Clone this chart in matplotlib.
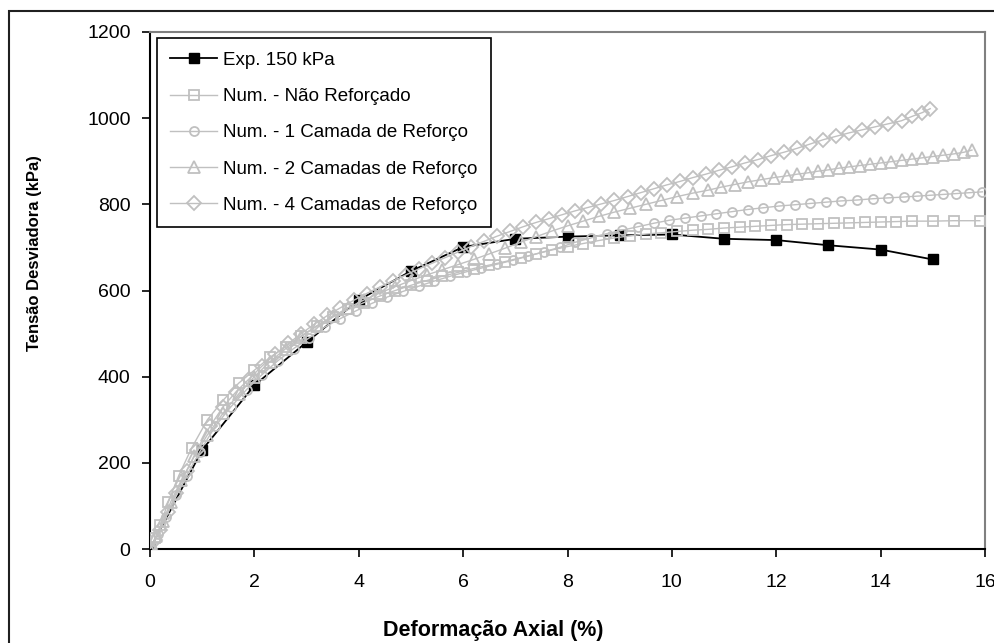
import matplotlib
matplotlib.use("Agg")
import matplotlib.pyplot as plt
from matplotlib.patches import Rectangle

plt.rcParams["font.family"] = ["Liberation Sans", "DejaVu Sans"]

# ensaio experimental, confinamento 150 kPa
exp_x = [0, 1, 2, 3, 4, 5, 6, 7, 8, 9, 10, 11, 12, 13, 14, 15]
exp_y = [0, 230, 380, 480, 578, 645, 701, 720, 725, 728, 730, 720, 717, 705, 695, 672]

# simulacoes numericas
nr_x = [0, 0.1, 0.2, 0.35, 0.55, 0.8, 1.1, 1.4, 1.7, 2.0, 2.3, 2.6, 2.9, 3.2, 3.5,
        3.8, 4.1, 4.4, 4.7, 5.0, 5.3, 5.6, 5.9, 6.2, 6.5, 6.8, 7.1, 7.4, 7.7, 8.0,
        8.3, 8.6, 8.9, 9.2, 9.5, 9.8, 10.1, 10.4, 10.7, 11.0, 11.3, 11.6, 11.9, 12.2,
        12.5, 12.8, 13.1, 13.4, 13.7, 14.0, 14.3, 14.6, 15.0, 15.4, 15.9]
nr_y = [0, 25, 55, 110, 170, 235, 300, 345, 385, 415, 445, 470, 495, 518, 538,
        556, 572, 587, 600, 612, 623, 633, 642, 651, 659, 667, 676, 685, 694, 702,
        709, 716, 722, 727, 731, 734, 737, 740, 742, 745, 747, 749, 751, 753,
        754, 755, 756, 757, 758, 759, 760, 761, 761, 762, 762]

c1_x = [0, 0.15, 0.3, 0.5, 0.7, 0.95, 1.25, 1.55, 1.85, 2.15, 2.45, 2.75, 3.05, 3.35,
        3.65, 3.95, 4.25, 4.55, 4.85, 5.15, 5.45, 5.75, 6.05, 6.35, 6.65, 6.95, 7.25,
        7.55, 7.85, 8.15, 8.45, 8.75, 9.05, 9.35, 9.65, 9.95, 10.25, 10.55, 10.85,
        11.15, 11.45, 11.75, 12.05, 12.35, 12.65, 12.95, 13.25, 13.55, 13.85, 14.15,
        14.45, 14.7, 14.95, 15.2, 15.45, 15.7, 15.95]
c1_y = [0, 35, 75, 125, 170, 225, 285, 330, 370, 405, 437, 465, 490, 515,
        535, 553, 570, 585, 598, 610, 622, 633, 643, 652, 661, 670, 680,
        690, 700, 712, 722, 732, 740, 748, 756, 763, 768, 773, 778,
        783, 788, 792, 796, 799, 802, 805, 808, 810, 813, 815,
        817, 819, 821, 823, 825, 827, 829]

c2_x = [0, 0.12, 0.25, 0.4, 0.6, 0.85, 1.1, 1.4, 1.7, 2.0, 2.3, 2.6, 2.9, 3.2, 3.5,
        3.8, 4.1, 4.4, 4.7, 5.0, 5.3, 5.6, 5.9, 6.2, 6.5, 6.8, 7.1, 7.4, 7.7, 8.0,
        8.3, 8.6, 8.9, 9.2, 9.5, 9.8, 10.1, 10.4, 10.7, 10.95, 11.2, 11.45, 11.7,
        11.95, 12.2, 12.4, 12.6, 12.8, 13.0, 13.2, 13.4, 13.6, 13.8, 14.0, 14.2,
        14.4, 14.6, 14.8, 15.0, 15.2, 15.4, 15.6, 15.75]
c2_y = [0, 30, 65, 110, 160, 215, 265, 315, 360, 400, 435, 465, 493, 518, 540,
        560, 578, 594, 609, 623, 636, 648, 660, 672, 685, 698, 712, 725, 738, 750,
        761, 772, 782, 791, 800, 809, 818, 826, 833, 840, 846, 852, 857,
        862, 866, 870, 873, 877, 880, 884, 887, 890, 893, 896, 899,
        902, 905, 908, 911, 914, 917, 921, 926]

c4_x = [0, 0.1, 0.2, 0.35, 0.5, 0.7, 0.9, 1.15, 1.4, 1.65, 1.9, 2.15, 2.4, 2.65, 2.9,
        3.15, 3.4, 3.65, 3.9, 4.15, 4.4, 4.65, 4.9, 5.15, 5.4, 5.65, 5.9, 6.15, 6.4,
        6.65, 6.9, 7.15, 7.4, 7.65, 7.9, 8.15, 8.4, 8.65, 8.9, 9.15, 9.4, 9.65, 9.9,
        10.15, 10.4, 10.65, 10.9, 11.15, 11.4, 11.65, 11.9, 12.15, 12.4, 12.65, 12.9,
        13.15, 13.4, 13.65, 13.9, 14.15, 14.4, 14.6, 14.8, 14.95]
c4_y = [0, 20, 45, 85, 130, 180, 230, 285, 330, 365, 395, 425, 452, 477, 500,
        522, 542, 560, 577, 593, 608, 622, 636, 650, 663, 676, 689, 702, 714,
        726, 737, 748, 758, 767, 776, 785, 793, 801, 809, 818, 827, 836, 845,
        853, 862, 870, 879, 887, 896, 904, 913, 921, 930, 940, 950,
        958, 966, 973, 980, 987, 994, 1004, 1013, 1022]

labels = ["Exp. 150 kPa", "Num. - Não Reforçado", "Num. - 1 Camada de Reforço",
          "Num. - 2 Camadas de Reforço", "Num. - 4 Camadas de Reforço"]

fig = plt.figure(figsize=(9.94, 6.43), dpi=100)
ax = fig.add_axes([150 / 994, 94 / 643, 835 / 994, 517 / 643])

grey = "#c0c0c0"
ax.plot(exp_x, exp_y, "-s", c="black", lw=1.3, ms=6.5, mfc="black", mec="black",
        label=labels[0], zorder=2)
num = [(nr_x, nr_y, "s", 7), (c1_x, c1_y, "o", 6.5),
       (c2_x, c2_y, "^", 8), (c4_x, c4_y, "D", 7)]
for (x, y, m, s), lab in zip(num, labels[1:]):
    ax.plot(x, y, "-" + m, c=grey, lw=1.0, ms=s, mfc="none", mec=grey, mew=1.3,
            label=lab, zorder=3)

ax.set_xlim(0, 16)
ax.set_ylim(0, 1200)
ax.set_xticks(range(0, 17, 2))
ax.set_yticks(range(0, 1201, 200))
ax.tick_params(axis="both", direction="out", length=6, width=1.2, labelsize=14)
ax.tick_params(axis="x", pad=12)
ax.tick_params(axis="y", pad=8)

for side in ["left", "bottom"]:
    ax.spines[side].set_color("black")
    ax.spines[side].set_linewidth(1.5)
for side in ["top", "right"]:
    ax.spines[side].set_color("#808080")
    ax.spines[side].set_linewidth(1.5)

ax.set_xlabel("Deformação Axial (%)", fontsize=15.5, fontweight="bold")
ax.xaxis.set_label_coords(0.411, -0.137)
ax.set_ylabel("Tensão Desviadora (kPa)", fontsize=12, fontweight="bold")
ax.yaxis.set_label_coords(-0.129, 0.573)

leg = ax.legend(loc="upper left", bbox_to_anchor=(0.008, 0.988), borderaxespad=0,
                fontsize=13.5, numpoints=1, handlelength=2.5, handletextpad=0.3,
                labelspacing=1.02, borderpad=0.72, fancybox=False, framealpha=1,
                edgecolor="black")
leg.get_frame().set_linewidth(1.2)

# moldura externa da figura
fig.patches.append(Rectangle((9 / 994, -0.1), 1.2, (643 - 11) / 643 + 0.1,
                             transform=fig.transFigure, fill=False,
                             edgecolor="#202020", lw=1.5))

plt.savefig("out.png", dpi=100)
